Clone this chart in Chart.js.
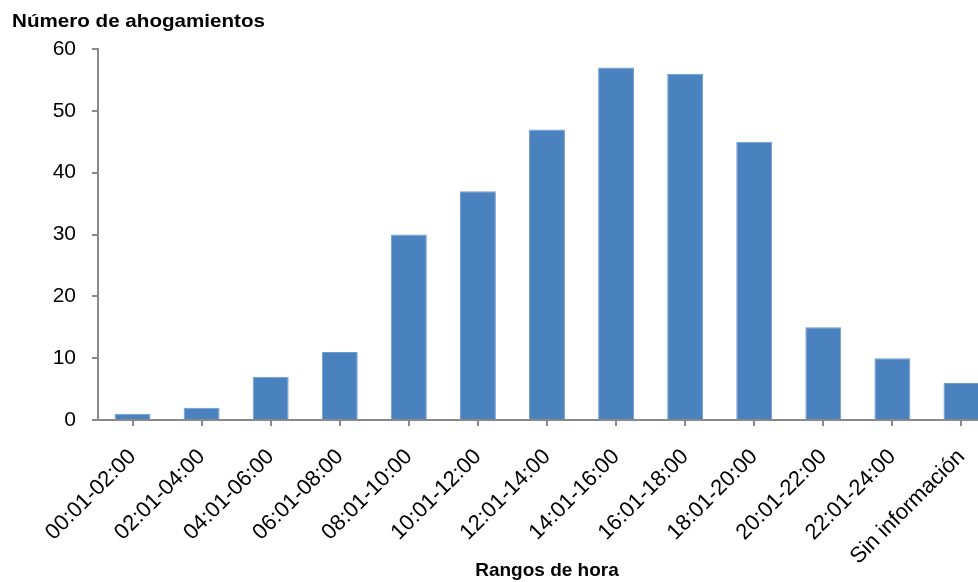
<!DOCTYPE html>
<html>
<head>
<meta charset="utf-8">
<script src="https://cdn.jsdelivr.net/npm/chart.js@4.4.1/dist/chart.umd.min.js"></script>
<style>
  html, body { margin: 0; padding: 0; background: #fff; overflow: hidden; }
  #wrap { width: 1000px; height: 582px; }
</style>
</head>
<body>
<div id="wrap"><canvas id="chart"></canvas></div>
<script>
// Datos del gráfico
const rangos = ['00:01-02:00', '02:01-04:00', '04:01-06:00', '06:01-08:00', '08:01-10:00',
  '10:01-12:00', '12:01-14:00', '14:01-16:00', '16:01-18:00', '18:01-20:00',
  '20:01-22:00', '22:01-24:00', 'Sin información'];
const ahogamientos = [1, 2, 7, 11, 30, 37, 47, 57, 56, 45, 15, 10, 6];
const yTicks = [0, 10, 20, 30, 40, 50, 60];

const axisColor = '#898989';

// titulo horizontal del eje Y, arriba a la izquierda
const yTitlePlugin = {
  id: 'yTitle',
  afterDraw(chart) {
    const ctx = chart.ctx;
    const text = 'Número de ahogamientos';
    ctx.save();
    ctx.font = 'bold 19px "Liberation Sans"';
    ctx.fillStyle = '#000';
    ctx.textBaseline = 'middle';
    ctx.textAlign = 'left';
    // estrechar un poco para parecerse a la fuente original
    const w = ctx.measureText(text).width;
    ctx.translate(12, 22);
    ctx.scale(253 / w, 1);
    ctx.fillText(text, 0, 0);
    ctx.restore();
  }
};

const ctx = document.getElementById('chart').getContext('2d');
const chart = new Chart(ctx, {
  type: 'bar',
  data: {
    labels: rangos,
    datasets: [{
      data: ahogamientos,
      backgroundColor: '#4a81bf',
      borderColor: '#6d9bd0',
      borderWidth: 1,
      barPercentage: 0.52,
      categoryPercentage: 1
    }]
  },
  options: {
    responsive: true,
    maintainAspectRatio: false,
    animation: false,
    layout: { padding: { top: 49, right: 4, left: 0, bottom: 0 } },
    plugins: {
      legend: { display: false },
      tooltip: { enabled: false }
    },
    scales: {
      y: {
        min: 0,
        max: 60,
        afterFit: function (scale) { scale.width = 98; },
        afterBuildTicks: function (scale) {
          scale.ticks = yTicks.map(v => ({ value: v }));
        },
        border: { color: axisColor, width: 2 },
        grid: { display: true, drawOnChartArea: false, drawTicks: true, tickLength: 6, color: axisColor, lineWidth: 2 },
        ticks: {
          color: '#000',
          padding: 16,
          font: { family: '"Liberation Sans"', size: 21 }
        }
      },
      x: {
        afterFit: function (scale) { scale.height = 162; },
        border: { color: axisColor, width: 2 },
        grid: { display: true, offset: false, drawOnChartArea: false, drawTicks: true, tickLength: 6, color: axisColor, lineWidth: 2 },
        ticks: {
          color: '#000',
          minRotation: 45,
          maxRotation: 45,
          autoSkip: false,
          padding: 18,
          font: { family: '"Liberation Sans"', size: 22 }
        },
        title: {
          display: true,
          text: 'Rangos de hora',
          color: '#000',
          font: { family: '"Liberation Sans"', size: 19, weight: 'bold' },
          padding: { top: 0, bottom: 0 }
        }
      }
    }
  },
  plugins: [yTitlePlugin]
});
</script>
</body>
</html>
